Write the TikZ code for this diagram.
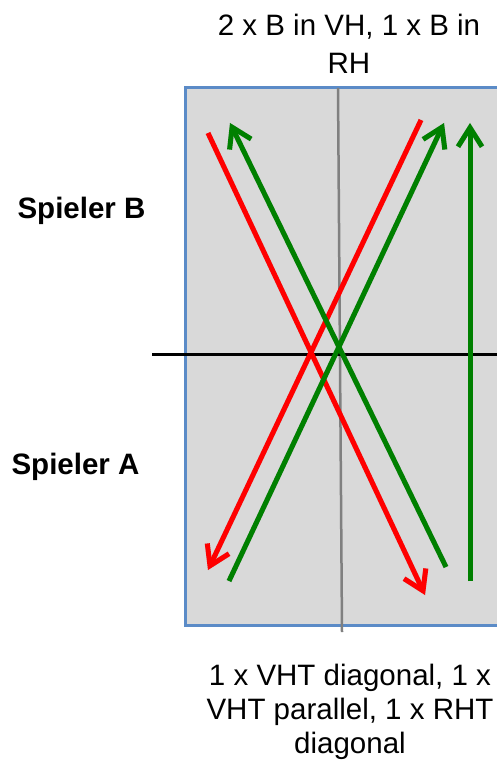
\documentclass[tikz,border=0pt]{standalone}
\usepackage{fontspec}
\setmainfont{Liberation Sans}
\usetikzlibrary{arrows.meta}
\definecolor{court}{HTML}{D9D9D9}\definecolor{rim}{HTML}{5B8BC7}\definecolor{grn}{HTML}{008000}
\tikzset{lbl/.style={align=center,inner sep=0pt,anchor=north,font=\fontsize{29.5}{38}\selectfont},pl/.style={lbl,font=\fontsize{29.5}{38}\selectfont\bfseries},shot/.style={line width=5pt,-{Straight Barb[length=19pt,width=24pt]}},shd/.style={shot,black,opacity=.15,shift={(1.5,2.5)}}}

\begin{document}
\begin{tikzpicture}[x=1pt,y=-1pt]
\clip(0,0)rectangle(497,762);
\fill[court](185,88)rectangle(520,625);\draw[rim,line width=3pt](520,88)--(185,88)--(185,625)--(520,625);
\coordinate(nt)at(338,88);\coordinate(nb)at(342,632);\draw[gray,line width=2.5pt](nt)--(nb);
\coordinate(ml)at(152,354);\coordinate(mr)at(520,354);\draw[black!20,line width=3pt,shift={(0,2)}](ml)--(mr);\draw[black,line width=3pt](ml)--(mr);
\node[lbl](top)at(349,14){2 x B in VH, 1 x B in\\RH};
\node[lbl,font=\fontsize{29.5}{34}\selectfont](bot)at(350,664){1 x VHT diagonal, 1 x\\VHT parallel, 1 x RHT\\diagonal};
\node[pl](spB)at(81.5,197){Spieler B};\node[pl](spA)at(75.5,453){Spieler A};
% Schlaege
\coordinate(r1)at(208,133);\coordinate(r1e)at(425,595);\coordinate(r2)at(421,120);\coordinate(r2e)at(208,570);
\coordinate(g1)at(446,567);\coordinate(g1e)at(230,123);\coordinate(g2)at(229,581);\coordinate(g2e)at(444,123);
\coordinate(g3)at(470,581);\coordinate(g3e)at(470,123);
\foreach\a/\b in{r1/r1e,r2/r2e,g1/g1e,g2/g2e,g3/g3e}\draw[shd](\a)--(\b);
\foreach\a/\b in{r1/r1e,r2/r2e}\draw[shot,red](\a)--(\b);
\foreach\a/\b in{g1/g1e,g2/g2e,g3/g3e}\draw[shot,grn](\a)--(\b);
\end{tikzpicture}
\end{document}
